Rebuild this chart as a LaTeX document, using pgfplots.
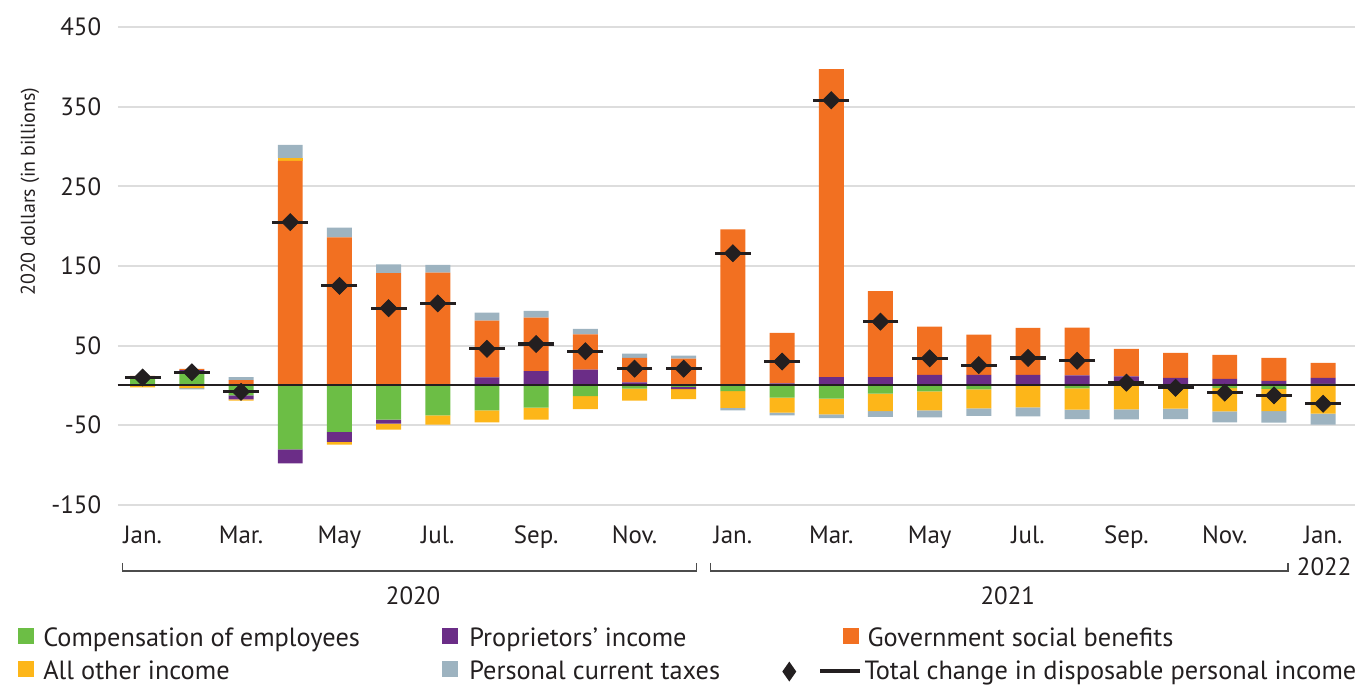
\documentclass[border=0pt]{standalone}
\usepackage{fontspec}
\setmainfont{PT Sans}
\usepackage{pgfplots}
\usepackage{pgfplotstable}
\pgfplotsset{compat=1.18}
\definecolor{cgreen}{HTML}{6CBE45}
\definecolor{cpurple}{HTML}{6B2D87}
\definecolor{corange}{HTML}{F27021}
\definecolor{cyellow}{HTML}{FDB619}
\definecolor{ctax}{HTML}{9DB3C0}
\definecolor{cdark}{HTML}{231F20}
\definecolor{cgrid}{HTML}{DDDDDD}

\pgfplotstableread{
x g p o y t
0 10 0.8 1.2 0 0
1 17.5 1.7 1.7 0 0
2 0 0 6.7 0 3.75
3 0 0 282 3.4 16.6
4 0 0 186 0 12.1
5 0 0 141 0 10.9
6 0 1.5 140 0 10
7 0 10 71.3 0 10
8 0 17.9 67.1 0 8.75
9 0 20 44 0 7.1
10 0 4 30.5 0 5.4
11 0 0 33.75 0 3.75
12 0 0 196 0 0
13 0 2.5 63.4 0 0
14 0 10.5 386.6 0 0
15 0 10.5 108 0 0
16 0 13.4 60.4 0 0
17 0 13.4 50.4 0 0
18 0 13.4 59 0 0
19 0 12.5 60 0 0
20 0 11.25 34.6 0 0
21 0 9.6 31.25 0 0
22 0 8.3 30 0 0
23 0 5.8 28.75 0 0
24 2 7.5 18.75 0 0
}\postab

\pgfplotstableread{
x g p y t
0 0 0 -2.5 0
1 0 0 -3.5 -1.5
2 -12.5 -5 -1.7 0
3 -80.4 -17.5 0 0
4 -58.3 -12.5 -3.4 0
5 -42.9 -5 -7.5 0
6 -37.5 0 -11.7 0
7 -31.3 0 -15 0
8 -28 0 -15 0
9 -13.3 0 -16.3 0
10 -4 0 -15 0
11 -1.7 -3 -12.5 0
12 -7 0 -21.3 -3
13 -15.4 0 -18.75 -3.3
14 -16.7 0 -19.6 -4.6
15 -10.4 0 -22 -7.1
16 -7.5 0 -23.75 -8.75
17 -5 0 -23.75 -9.6
18 -0.5 0 -27 -11.25
19 -3.75 0 -26.7 -11.7
20 0 0 -30 -12.5
21 0 0 -29 -13.4
22 -3.3 0 -29.2 -13.75
23 -4.2 0 -27.9 -14.6
24 0 0 -35.4 -13.75
}\negtab

\pgfplotstableread{
x tot
0 10
1 16.5
2 -8
3 205
4 125
5 97
6 103
7 46
8 52
9 43
10 21
11 21
12 166
13 30
14 358
15 80
16 34
17 25.5
18 34.5
19 31
20 3.5
21 -3
22 -9
23 -12.5
24 -23
}\tottab

\pgfplotsset{
  base/.style={
    scale only axis, width=620pt, height=239.5pt,
    at={(59pt,-253pt)}, anchor=south west,
    xmin=-0.507, xmax=24.65, ymin=-150, ymax=450,
    axis line style={draw=none}, tick style={draw=none},
    clip=false,
  },
  hid/.style={base, xtick=\empty, ytick=\empty},
}

\begin{document}
\begin{tikzpicture}
\begin{scope}[x=0.5pt,y=-0.5pt]
\path[use as bounding box] (0,0) rectangle (1358,685);
\end{scope}

% positive parts, grid, ticks
\begin{axis}[base,
  ybar stacked, bar width=12.5pt,
  ytick={-150,-50,50,150,250,350,450},
  yticklabels={-150,-50,50,150,250,350,450},
  ymajorgrids, grid style={cgrid, line width=1pt},
  yticklabel style={font=\fontsize{12.5}{14}\selectfont, text=cdark, xshift=-4.8pt},
  xtick={0,2,...,24},
  xticklabels={Jan.,Mar.,May,Jul.,Sep.,Nov.,Jan.,Mar.,May,Jul.,Sep.,Nov.,Jan.},
  xticklabel style={font=\fontsize{12.5}{14}\selectfont, text=cdark, anchor=base, yshift=-19.5pt},
]
\addplot[fill=cgreen, draw=none] table[x=x,y=g] {\postab};
\addplot[fill=cpurple, draw=none] table[x=x,y=p] {\postab};
\addplot[fill=corange, draw=none] table[x=x,y=o] {\postab};
\addplot[fill=cyellow, draw=none] table[x=x,y=y] {\postab};
\addplot[fill=ctax, draw=none] table[x=x,y=t] {\postab};
\end{axis}

% negative parts
\begin{axis}[hid, ybar stacked, bar width=12.5pt]
\addplot[fill=cgreen, draw=none] table[x=x,y=g] {\negtab};
\addplot[fill=cpurple, draw=none] table[x=x,y=p] {\negtab};
\addplot[fill=cyellow, draw=none] table[x=x,y=y] {\negtab};
\addplot[fill=ctax, draw=none] table[x=x,y=t] {\negtab};
\end{axis}

% zero line and totals
\begin{axis}[hid]
\draw[cdark, line width=1pt] (axis cs:-0.507,0) -- (axis cs:24.65,0);
\addplot[only marks, mark=-, mark size=9pt, mark options={draw=cdark, line width=1.6pt}] table[x=x,y=tot] {\tottab};
\addplot[only marks, mark=square*, mark size=3pt, mark options={fill=cdark, draw=cdark, rotate=45}] table[x=x,y=tot] {\tottab};
\end{axis}

\begin{scope}[x=0.5pt,y=-0.5pt]
% y label
\node[rotate=90, font=\fontsize{10}{12}\selectfont, text=cdark] at (30,192) {2020 dollars (in billions)};
% year brackets
\draw[black!70, line width=0.75pt] (123,564) -- (123,572) -- (698,572) -- (698,564);
\draw[black!70, line width=0.75pt] (712,564) -- (712,572) -- (1291,572) -- (1291,564);
\node[font=\fontsize{12.5}{14}\selectfont, text=cdark] at (414,597) {2020};
\node[font=\fontsize{12.5}{14}\selectfont, text=cdark] at (1010,597) {2021};
\node[font=\fontsize{12.5}{14}\selectfont, text=cdark] at (1327,568) {2022};
% legend
\def\lf{\fontsize{13.2}{15}\selectfont}
\fill[cgreen] (18,629) rectangle (34,645);
\node[anchor=base west, inner sep=0, font=\lf, text=cdark] at (43,648) {Compensation of employees};
\fill[cpurple] (443,629) rectangle (459,645);
\node[anchor=base west, inner sep=0, font=\lf, text=cdark] at (470,648) {Proprietors’ income};
\fill[corange] (845,629) rectangle (861,645);
\node[anchor=base west, inner sep=0, font=\lf, text=cdark] at (869,648) {Government social benefits};
\fill[cyellow] (18,662) rectangle (34,678);
\node[anchor=base west, inner sep=0, font=\lf, text=cdark] at (43,681) {All other income};
\fill[ctax] (443,662) rectangle (459,678);
\node[anchor=base west, inner sep=0, font=\lf, text=cdark] at (470,681) {Personal current taxes};
\fill[cdark] (791,663) -- (798,673) -- (791,683) -- (784,673) -- cycle;
\draw[cdark, line width=2pt] (822,672) -- (862,672);
\node[anchor=base west, inner sep=0, font=\lf, text=cdark] at (866,681) {Total change in disposable personal income};
\end{scope}
\end{tikzpicture}
\end{document}
